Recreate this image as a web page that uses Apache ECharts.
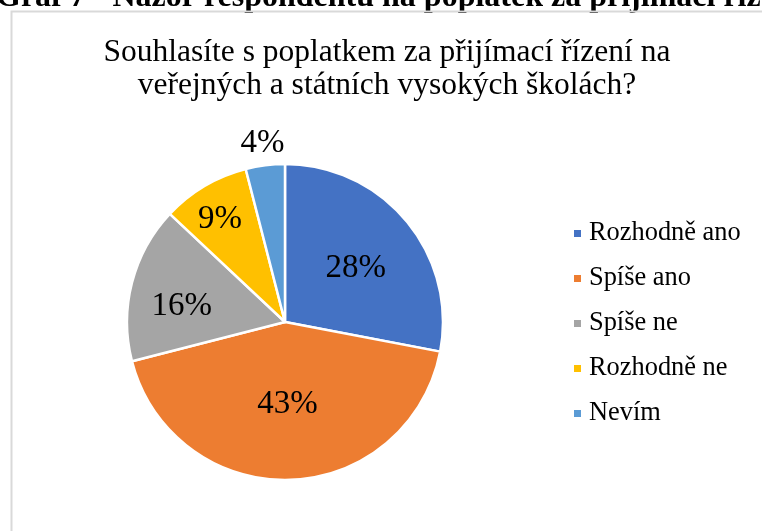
<!DOCTYPE html>
<html>
<head>
<meta charset="utf-8">
<script src="https://cdn.jsdelivr.net/npm/echarts@6/dist/echarts.min.js"></script>
<style>
  html, body { margin: 0; padding: 0; background: #fff; }
  #chart { width: 762px; height: 531px; }
</style>
</head>
<body>
<div id="chart"></div>
<script>
// data
var categories = ['Rozhodně ano', 'Spíše ano', 'Spíše ne', 'Rozhodně ne', 'Nevím'];
var values = [28, 43, 16, 9, 4];
var colors = ['#4472C4', '#ED7D31', '#A5A5A5', '#FFC000', '#5B9BD5'];

// how far out each label sits (relative to ECharts' inside position) + small vertical nudge
var labelPush = [1.12, 1.0, 1.3, 1.56, 2.2];
var labelNudge = [5, 0, 11, 7, 0];

var cx = 285, cy = 322;
var serif = '"Liberation Serif", "Times New Roman", serif';

var chartDom = document.getElementById('chart');
var myChart = echarts.init(chartDom);

var option = {
  backgroundColor: '#fff',
  title: {
    text: 'Souhlasíte s poplatkem za přijímací řízení na\nveřejných a státních vysokých školách?',
    left: 382,
    textAlign: 'center',
    top: 31,
    textStyle: {
      fontFamily: serif,
      fontWeight: 'normal',
      fontSize: 31.5,
      lineHeight: 33,
      color: '#000'
    }
  },
  legend: {
    orient: 'vertical',
    left: 567,
    top: 215,
    itemWidth: 9,
    itemHeight: 9,
    itemGap: 18,
    icon: 'rect',
    data: categories,
    textStyle: {
      fontFamily: serif,
      fontSize: 26.4,
      lineHeight: 27,
      color: '#000',
      padding: [0, 0, 0, 2]
    }
  },
  graphic: [
    {
      type: 'text',
      left: -4,
      top: -18,
      style: {
        text: 'Graf 7 - Názor respondentů na poplatek za přijímací řízení',
        font: 'bold 32px ' + serif,
        fill: '#000'
      }
    },
    {
      type: 'rect',
      shape: { x: 11.5, y: 11.5, width: 900, height: 700 },
      style: { fill: 'none', stroke: '#d9d9d9', lineWidth: 2 }
    }
  ],
  series: [
    {
      type: 'pie',
      center: [cx, cy],
      radius: 158,
      startAngle: 90,
      clockwise: true,
      avoidLabelOverlap: false,
      itemStyle: { borderColor: '#fff', borderWidth: 2.5 },
      label: {
        show: true,
        position: 'inside',
        formatter: '{c}%',
        fontFamily: serif,
        fontSize: 33,
        color: '#000'
      },
      labelLine: { show: false },
      emphasis: { disabled: true },
      labelLayout: function (params) {
        var r = params.labelRect;
        var lx = r.x + r.width / 2, ly = r.y + r.height / 2;
        var f = labelPush[params.dataIndex] - 1;
        return { dx: (lx - cx) * f, dy: (ly - cy) * f + labelNudge[params.dataIndex] };
      },
      data: categories.map(function (name, i) {
        return { name: name, value: values[i], itemStyle: { color: colors[i] } };
      })
    }
  ]
};

myChart.setOption(option);
</script>
</body>
</html>
